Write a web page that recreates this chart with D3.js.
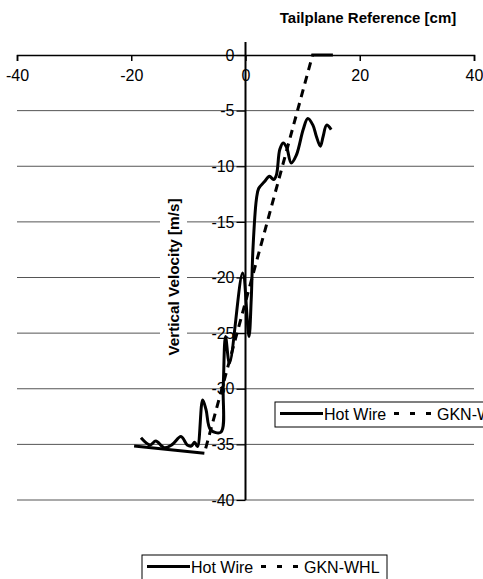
<!DOCTYPE html>
<html>
<head>
<meta charset="utf-8">
<script src="https://cdn.jsdelivr.net/npm/d3@7"></script>
<style>
  body { margin: 0; background: #fff; }
  svg { display: block; font-family: "Liberation Sans", Arial, sans-serif; }
</style>
</head>
<body>
<div class="graph"></div>
<script>
// tick values
var xTicks = [-40, -20, 0, 20, 40];
var yTicks = [0, -5, -10, -15, -20, -25, -30, -35, -40];

// Hot Wire measurement (tailplane ref cm, vertical velocity m/s)
var hotWireX = [-18.3, -16.7, -15.7, -14.2, -12.8, -11.3, -10.2, -9.5, -8.9, -8.4,
    -7.5, -6.9, -6.1, -4.3, -3.9, -3.5, -2.8, -0.5, 0.6, 1.0,
    1.3, 1.9, 2.3, 3.3, 4.2, 4.9, 5.4, 6.0, 6.6, 7.2,
    8.0, 8.9, 10.1, 10.9, 11.8, 12.4, 13.1, 13.6, 14.2, 15.0];
var hotWireY = [-34.4, -35.05, -34.7, -35.3, -35.0, -34.3, -35.05, -35.15, -34.8, -35.2,
    -31.0, -31.9, -33.7, -33.9, -29.8, -25.3, -27.7, -19.6, -25.3, -22,
    -17.5, -13, -12.0, -11.4, -10.9, -11.2, -10.8, -8.5, -7.9, -8.3,
    -9.7, -9.0, -6.7, -5.7, -6.3, -7.3, -8.2, -7.3, -6.3, -6.7];

// GKN-WHL prediction
var gknX = [-19.5, -7.2, 11.75, 15.3];
var gknY = [-35.15, -35.8, 0, 0];

var seriesNames = ['Hot Wire', 'GKN-WHL'];

var width = 483,
    height = 579;

var x = d3.scaleLinear().domain([-40, 40]).range([17, 474]);
var y = d3.scaleLinear().domain([-40, 0]).range([500, 55]);

var svg = d3.select('.graph').append('svg')
    .attr('width', width)
    .attr('height', height);

// gridlines
svg.append('g')
    .selectAll('line')
    .data(yTicks.filter(function (d) { return d !== 0; }))
    .enter().append('line')
    .attr('x1', x(-40))
    .attr('x2', x(40))
    .attr('y1', function (d) { return y(d); })
    .attr('y2', function (d) { return y(d); })
    .attr('stroke', '#555')
    .attr('stroke-width', 1);

// y axis title with white box behind it
var yTitle = svg.append('g')
    .attr('transform', 'translate(174,277) rotate(-90)');
var yBg = yTitle.append('rect').attr('fill', '#fff');
var yText = yTitle.append('text')
    .attr('text-anchor', 'middle')
    .attr('dy', '0.35em')
    .attr('textLength', 157)
    .attr('lengthAdjust', 'spacingAndGlyphs')
    .style('font-size', '14px')
    .style('font-weight', 'bold')
    .text('Vertical Velocity [m/s]');
var bb = yText.node().getBBox();
yBg.attr('x', bb.x - 4).attr('y', -14).attr('width', bb.width + 8).attr('height', 27);

// x axis along y = 0
var xAxis = svg.append('g')
    .attr('transform', 'translate(0,' + y(0) + ')')
    .call(d3.axisBottom(x).tickValues(xTicks).tickSize(6).tickSizeOuter(6).tickPadding(9)
        .tickFormat(function (d) { return String(d); }));
xAxis.select('.domain').attr('stroke', '#000').attr('stroke-width', 1.5);
xAxis.selectAll('.tick line').attr('stroke', '#000').attr('stroke-width', 1.5);
xAxis.selectAll('text')
    .style('font-size', '16px')
    .attr('fill', '#000');

// y axis along x = 0
var yAxis = svg.append('g')
    .attr('transform', 'translate(' + x(0) + ',0)')
    .call(d3.axisLeft(y).tickValues(yTicks).tickSize(9).tickSizeOuter(0).tickPadding(2)
        .tickFormat(function (d) { return String(d); }));
yAxis.select('.domain').remove();
yAxis.selectAll('.tick line').attr('stroke', '#000').attr('stroke-width', 1.2);
yAxis.selectAll('text')
    .style('font-size', '16px')
    .attr('fill', '#000');
svg.append('line')
    .attr('x1', x(0)).attr('x2', x(0))
    .attr('y1', y(0) - 13).attr('y2', y(-40))
    .attr('stroke', '#000')
    .attr('stroke-width', 2);

// chart title
svg.append('text')
    .attr('x', 368)
    .attr('y', 23)
    .attr('text-anchor', 'middle')
    .style('font-size', '15px')
    .style('font-weight', 'bold')
    .text('Tailplane Reference [cm]');

// series
var hotWire = hotWireX.map(function (v, i) { return [v, hotWireY[i]]; });
var gkn = gknX.map(function (v, i) { return [v, gknY[i]]; });

var smooth = d3.line()
    .x(function (d) { return x(d[0]); })
    .y(function (d) { return y(d[1]); })
    .curve(d3.curveCatmullRom.alpha(0.5));

var straight = d3.line()
    .x(function (d) { return x(d[0]); })
    .y(function (d) { return y(d[1]); });

// flat GKN ends print solid, the slope between them dashed
function segLen(a, b) {
    return Math.hypot(x(b[0]) - x(a[0]), y(b[1]) - y(a[1]));
}
var seg0 = segLen(gkn[0], gkn[1]),
    seg1 = segLen(gkn[1], gkn[2]),
    seg2 = segLen(gkn[2], gkn[3]);
var dash = [seg0, 5];
var used = 5;
while (used + 14 < seg1) { dash.push(8, 6); used += 14; }
dash.push(seg1 - used + seg2 + 2, 2000);

svg.append('path')
    .datum(gkn)
    .attr('d', straight)
    .attr('fill', 'none')
    .attr('stroke', '#000')
    .attr('stroke-width', 3)
    .attr('stroke-dasharray', dash.join(','));

svg.append('path')
    .datum(hotWire)
    .attr('d', smooth)
    .attr('fill', 'none')
    .attr('stroke', '#000')
    .attr('stroke-width', 3)
    .attr('stroke-linejoin', 'round');

// legends (one inside plot, one below) - both run off the right/bottom edge
function legend(lx, ly) {
    var g = svg.append('g').attr('transform', 'translate(' + lx + ',' + ly + ')');
    g.append('rect')
        .attr('width', 245).attr('height', 25)
        .attr('fill', '#fff')
        .attr('stroke', '#000')
        .attr('stroke-width', 1);
    g.append('line')
        .attr('x1', 5).attr('x2', 48).attr('y1', 11.5).attr('y2', 11.5)
        .attr('stroke', '#000').attr('stroke-width', 3);
    g.append('text')
        .attr('x', 49).attr('y', 17.5)
        .style('font-size', '16px')
        .text(seriesNames[0]);
    g.append('line')
        .attr('x1', 119).attr('x2', 156).attr('y1', 11.5).attr('y2', 11.5)
        .attr('stroke', '#000').attr('stroke-width', 3)
        .attr('stroke-dasharray', '5,11');
    g.append('text')
        .attr('x', 162).attr('y', 17.5)
        .style('font-size', '16px')
        .text(seriesNames[1]);
}
legend(275, 402);
legend(142, 555);
</script>
</body>
</html>
